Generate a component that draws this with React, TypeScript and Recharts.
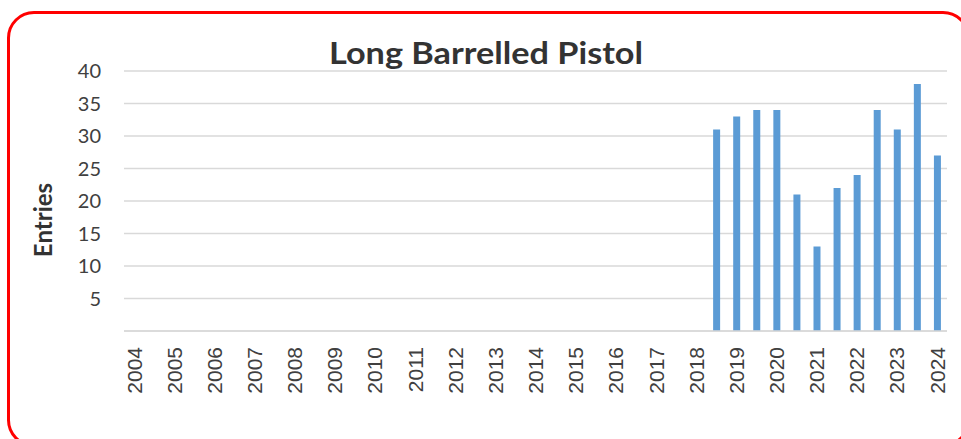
import { BarChart, Bar, XAxis, YAxis, CartesianGrid } from "recharts";

const years = [
  "2004", "2005", "2006", "2007", "2008", "2009", "2010", "2011", "2012", "2013", "2014",
  "2015", "2016", "2017", "2018", "2019", "2020", "2021", "2022", "2023", "2024",
];

// two slots per year (one labelled, one between), last year only has the labelled slot
const slots = years.flatMap((y, i) => (i < years.length - 1 ? [y, y + "b"] : [y]));

const entries: (number | null)[] = [
  null, null, null, null, null, null, null, null, null, null,
  null, null, null, null, null, null, null, null, null, null,
  null, null, null, null, null, null, null, null, null,
  31, 33, 34, 34, 21, 13, 22, 24, 34, 31, 38, 27,
];

const yTicks = [5, 10, 15, 20, 25, 30, 35, 40];

const data = slots.map((name, i) => ({ name, value: entries[i] }));

const YearTick = (props: any) => {
  const { x, y, payload } = props;
  if (!years.includes(payload.value)) return <g />;
  return (
    <g transform={`translate(${x},${y})`}>
      <text
        x={-16}
        y={0}
        dy="0.36em"
        transform="rotate(-90)"
        textAnchor="end"
        fill="#404040"
        fontSize={21}
        fontFamily="'Liberation Sans', Arial, sans-serif"
      >
        {payload.value}
      </text>
    </g>
  );
};

export default function App() {
  return (
    <div
      style={{
        position: "fixed",
        left: 0,
        top: 0,
        width: 961,
        height: 439,
        overflow: "hidden",
        background: "#fff",
      }}
    >
      <div
        style={{
          position: "absolute",
          left: 6.5,
          top: 10.5,
          width: 963,
          height: 436,
          boxSizing: "border-box",
          border: "3px solid #ff0000",
          borderRadius: 27,
        }}
      />
      <BarChart
        width={961}
        height={439}
        data={data}
        margin={{ top: 71, right: 14, bottom: 0, left: 0 }}
        style={{ position: "absolute", left: 0, top: 0 }}
      >
        <CartesianGrid vertical={false} stroke="#d9d9d9" strokeWidth={1.4} />
        <XAxis
          dataKey="name"
          interval={0}
          height={108}
          tickLine={false}
          tickSize={0}
          tickMargin={0}
          axisLine={{ stroke: "#d9d9d9", strokeWidth: 1.5 }}
          tick={<YearTick />}
        />
        <YAxis
          width={124}
          domain={[0, 40]}
          ticks={yTicks}
          tickLine={false}
          axisLine={false}
          tickSize={0}
          tickMargin={23}
          tick={{ fill: "#404040", fontSize: 20, fontFamily: "Lato, sans-serif" }}
        />
        <Bar dataKey="value" fill="#5b9bd5" barSize={7} isAnimationActive={false} />
      </BarChart>
      <svg
        width={961}
        height={439}
        style={{ position: "absolute", left: 0, top: 0, pointerEvents: "none" }}
      >
        <text
          x={486}
          y={64}
          textAnchor="middle"
          fill="#333333"
          fontSize={30}
          fontWeight="bold"
          fontFamily="Lato, sans-serif"
          textLength={314}
          lengthAdjust="spacingAndGlyphs"
        >
          Long Barrelled Pistol
        </text>
        <text
          x={42}
          y={220}
          transform="rotate(-90 42 220)"
          textAnchor="middle"
          dominantBaseline="central"
          fill="#333333"
          fontSize={24}
          fontWeight="bold"
          fontFamily="Lato, sans-serif"
        >
          Entries
        </text>
      </svg>
    </div>
  );
}
